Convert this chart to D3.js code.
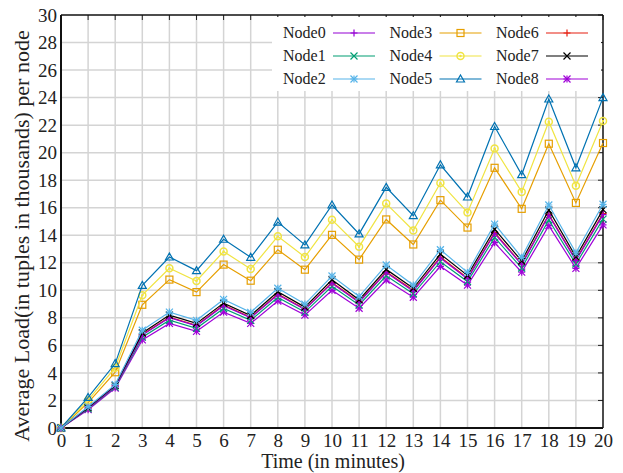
<!DOCTYPE html>
<html>
<head>
<meta charset="utf-8">
<script src="https://d3js.org/d3.v7.min.js"></script>
<style>
  body { margin: 0; background: #fff; }
  #chart text { font-family: "Liberation Serif", "DejaVu Serif", serif !important; }
</style>
</head>
<body>
<div id="chart"></div>
<script>
    const minutes = [0, 1, 2, 3, 4, 5, 6, 7, 8, 9, 10, 11, 12, 13, 14, 15, 16, 17, 18, 19, 20];

    const node0 = [0, 1.44, 3.02, 6.75, 8.01, 7.42, 8.88, 8.0, 9.68, 8.6, 10.52, 9.12, 11.3, 9.94, 12.35, 10.84, 14.13, 11.86, 15.45, 12.16, 15.5];
    const node1 = [0, 1.39, 2.97, 6.6, 7.83, 7.24, 8.68, 7.82, 9.48, 8.42, 10.29, 8.94, 11.06, 9.75, 12.08, 10.64, 13.84, 11.62, 15.12, 11.91, 15.17];
    const node2 = [0, 1.55, 3.15, 7.1, 8.42, 7.82, 9.34, 8.4, 10.15, 9.0, 11.04, 9.55, 11.84, 10.38, 12.95, 11.3, 14.81, 12.4, 16.2, 12.72, 16.25];
    const node3 = [0, 1.84, 4.05, 8.95, 10.78, 9.87, 11.87, 10.7, 12.95, 11.5, 14.03, 12.23, 15.15, 13.33, 16.55, 14.56, 18.9, 15.92, 20.65, 16.35, 20.7];
    const node4 = [0, 2.02, 4.38, 9.65, 11.6, 10.68, 12.82, 11.55, 13.92, 12.42, 15.12, 13.17, 16.3, 14.35, 17.8, 15.66, 20.3, 17.15, 22.25, 17.6, 22.3];
    const node5 = [0, 2.22, 4.68, 10.36, 12.42, 11.43, 13.71, 12.4, 14.96, 13.3, 16.2, 14.1, 17.48, 15.42, 19.12, 16.78, 21.9, 18.4, 23.9, 18.9, 24.0];
    const node6 = [0, 1.45, 3.04, 6.79, 8.05, 7.46, 8.93, 8.04, 9.73, 8.64, 10.57, 9.17, 11.35, 10.0, 12.41, 10.89, 14.2, 11.91, 15.52, 12.22, 15.57];
    const node7 = [0, 1.48, 3.1, 6.9, 8.2, 7.6, 9.07, 8.17, 9.9, 8.78, 10.76, 9.31, 11.52, 10.15, 12.63, 11.08, 14.44, 12.13, 15.83, 12.43, 15.86];
    const node8 = [0, 1.33, 2.9, 6.4, 7.6, 7.02, 8.42, 7.6, 9.22, 8.2, 10.0, 8.7, 10.75, 9.5, 11.74, 10.38, 13.46, 11.32, 14.7, 11.6, 14.75];

    const names = ["Node0", "Node1", "Node2", "Node3", "Node4", "Node5", "Node6", "Node7", "Node8"];
    const colors = ["#9400d3", "#009e73", "#56b4e9", "#e69f00", "#f0e442", "#0072b2", "#e51e10", "#000000", "#a000d8"];
    const markers = ["plus", "cross", "star", "square", "circle", "triangle", "plus", "cross", "star"];
    const yTicks = [0, 2, 4, 6, 8, 10, 12, 14, 16, 18, 20, 22, 24, 26, 28, 30];

    const series = [node0, node1, node2, node3, node4, node5, node6, node7, node8]
        .map((vals, i) => ({ name: names[i], color: colors[i], marker: markers[i], vals }));

    const width = 623, height = 473;
    const margin = { top: 15, right: 20, bottom: 45, left: 61 };
    const iw = width - margin.left - margin.right;
    const ih = height - margin.top - margin.bottom;

    const svg = d3.select("#chart").append("svg")
        .attr("width", width)
        .attr("height", height);

    const g = svg.append("g").attr("transform", `translate(${margin.left},${margin.top})`);

    const x = d3.scaleLinear().domain([0, 20]).range([0, iw]);
    const y = d3.scaleLinear().domain([0, 30]).range([ih, 0]);

    // grid
    g.append("g").selectAll("line").data(minutes.slice(1, -1)).join("line")
        .attr("x1", d => x(d)).attr("x2", d => x(d))
        .attr("y1", 0).attr("y2", ih)
        .attr("stroke", "#d4d4d4").attr("stroke-width", 1.5);
    g.append("g").selectAll("line").data(yTicks.slice(1, -1)).join("line")
        .attr("x1", 0).attr("x2", iw)
        .attr("y1", d => y(d)).attr("y2", d => y(d))
        .attr("stroke", "#d4d4d4").attr("stroke-width", 1.5);

    // axes
    const xAxis = g.append("g").attr("transform", `translate(0,${ih})`)
        .call(d3.axisBottom(x).tickValues(minutes).tickFormat(d3.format("d")).tickSize(0).tickPadding(3));
    const yAxis = g.append("g")
        .call(d3.axisLeft(y).tickValues(yTicks).tickFormat(d3.format("d")).tickSize(0).tickPadding(4));
    [xAxis, yAxis].forEach(a => {
        a.attr("font-size", 19);
        a.select(".domain").remove();
        a.selectAll("text").attr("fill", "#222");
    });
    xAxis.selectAll("text").attr("dy", "0.82em");

    // top/right mirrored ticks
    g.append("g").selectAll("line").data(minutes).join("line")
        .attr("x1", d => x(d)).attr("x2", d => x(d))
        .attr("y1", 0).attr("y2", 5)
        .attr("stroke", "#222").attr("stroke-width", 1);
    g.append("g").selectAll("line").data(yTicks).join("line")
        .attr("x1", iw - 5).attr("x2", iw)
        .attr("y1", d => y(d)).attr("y2", d => y(d))
        .attr("stroke", "#222").attr("stroke-width", 1);

    // frame
    g.append("line").attr("x1", 0).attr("x2", iw).attr("y1", 0).attr("y2", 0).attr("stroke", "#111").attr("stroke-width", 1.5);
    g.append("line").attr("x1", iw).attr("x2", iw).attr("y1", 0).attr("y2", ih).attr("stroke", "#111").attr("stroke-width", 1.5);
    g.append("line").attr("x1", 0).attr("x2", 0).attr("y1", 0).attr("y2", ih).attr("stroke", "#111").attr("stroke-width", 2);
    g.append("line").attr("x1", 0).attr("x2", iw).attr("y1", ih).attr("y2", ih).attr("stroke", "#111").attr("stroke-width", 2);

    function drawMarker(sel, type, color) {
        const s = 3.5;
        if (type === "plus" || type === "star") {
            sel.append("path").attr("d", `M${-s},0H${s}M0,${-s}V${s}`).attr("stroke", color).attr("stroke-width", 1.2);
        }
        if (type === "cross" || type === "star") {
            sel.append("path").attr("d", `M${-s},${-s}L${s},${s}M${-s},${s}L${s},${-s}`).attr("stroke", color).attr("stroke-width", 1.2);
        }
        if (type === "square") {
            sel.append("rect").attr("x", -s).attr("y", -s).attr("width", 2 * s).attr("height", 2 * s)
                .attr("fill", "none").attr("stroke", color).attr("stroke-width", 1.2);
        }
        if (type === "circle") {
            sel.append("circle").attr("r", s).attr("fill", "none").attr("stroke", color).attr("stroke-width", 1.5);
            sel.append("circle").attr("r", 1.2).attr("fill", color);
        }
        if (type === "triangle") {
            sel.append("path").attr("d", `M0,${-s - 0.5}L${s + 0.5},${s - 0.5}L${-s - 0.5},${s - 0.5}Z`)
                .attr("fill", "none").attr("stroke", color).attr("stroke-width", 1.2);
        }
    }

    const line = d3.line().x((d, i) => x(minutes[i])).y(d => y(d));

    // draw order so that the cluster stacks like the original
    const order = [3, 4, 5, 8, 1, 6, 0, 7, 2];
    order.forEach(k => {
        const s = series[k];
        g.append("path").datum(s.vals)
            .attr("fill", "none").attr("stroke", s.color).attr("stroke-width", 1.2)
            .attr("d", line);
        g.append("g").selectAll("g").data(s.vals).join("g")
            .attr("transform", (d, i) => `translate(${x(minutes[i])},${y(d)})`)
            .each(function () { drawMarker(d3.select(this), s.marker, s.color); });
    });

    // legend
    const legend = svg.append("g").attr("transform", "translate(272,17)");
    legend.append("rect").attr("x", 0).attr("y", 0).attr("width", 329).attr("height", 74).attr("fill", "#fff");
    series.forEach((s, i) => {
        const col = Math.floor(i / 3), row = i % 3;
        const item = legend.append("g")
            .attr("transform", `translate(${11 + col * 106.5},${16 + row * 23})`);
        item.append("text").attr("x", 0).attr("y", 0).attr("dy", "0.33em")
            .attr("font-size", 16).attr("fill", "#222").text(s.name);
        item.append("line").attr("x1", 50).attr("x2", 92).attr("y1", 0).attr("y2", 0)
            .attr("stroke", s.color).attr("stroke-width", 1.2);
        drawMarker(item.append("g").attr("transform", "translate(71,0)"), s.marker, s.color);
    });

    // axis titles
    svg.append("text")
        .attr("x", margin.left + iw / 2 + 1).attr("y", 468)
        .attr("text-anchor", "middle").attr("font-size", 20).attr("fill", "#222")
        .text("Time (in minutes)");
    svg.append("text")
        .attr("transform", `translate(29,236) rotate(-90)`)
        .attr("text-anchor", "middle").attr("font-size", 22).attr("fill", "#222")
        .text("Average Load(in tuples in thousands) per node");
</script>
</body>
</html>
